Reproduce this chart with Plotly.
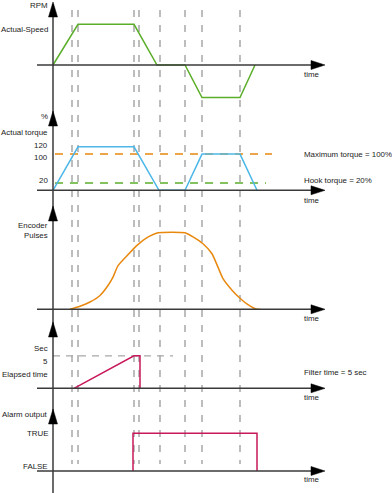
import plotly.graph_objects as go

W, H = 392, 493

# ---------------- data (time in arbitrary units) ----------------
event_times = [19, 25, 81, 86, 107, 132, 149, 187]

speed_t = [0, 25, 81, 104, 132, 149, 187, 202]
speed_v = [0, 100, 100, 0, 0, -80, -80, 0]

torque_t = [0, 25, 81, 106, 132, 149, 187, 204]
torque_v = [0, 120, 120, 0, 0, 100, 100, 0]
torque_ticks = [120, 100, 20]
max_torque = 100
hook_torque = 20
limit_t = [2, 219]
hook_t = [2, 213]

encoder_t = [17, 27, 37, 47, 55, 60, 65, 74, 84, 94, 105, 132, 140, 150, 159, 165, 170, 179, 187, 195, 204, 207]
encoder_v = [0, 4, 9.5, 18, 31, 42, 57, 70, 83.5, 93.5, 100, 100, 94.5, 85.5, 72.5, 55, 40, 25, 14.5, 6, 0, 0]

elapsed_t = [21, 81, 87, 87]
elapsed_v = [0, 5, 5, 0]
filter_time = 5
filter_t = [0, 120]

alarm_t = [80, 80, 204, 204]
alarm_v = [0, 1, 1, 0]

# ---------------- style ----------------
GREEN = "#5BAE2A"
BLUE = "#4DB8E8"
ORANGE = "#E8880E"
RED = "#C8185A"
GREY = "#A8A8A8"
AXIS = "#3A3A3A"
TEXT = "#222222"
FONT = "Liberation Sans, Arial, sans-serif"
FS = 7.9

# panel geometry (pixels): top, bottom, zero line, px per unit
panels = [
    (0, 106, 65, 0.407),
    (106, 203, 190.3, 0.362),
    (203, 320, 309.3, 0.766),
    (320, 404, 388.3, 6.5),
    (404, 493, 471, 37.7),
]
arrow_tips = [2, 111, 206, 322, 409]

def py(p):
    return 1 - p / H

fig = go.Figure()

layout = dict(
    width=W, height=H, margin=dict(l=0, r=0, t=0, b=0),
    paper_bgcolor="white", plot_bgcolor="white", showlegend=False,
    xaxis=dict(range=[-53, W - 53], domain=[0, 1], visible=False, fixedrange=True),
)
for i, (top, bot, zero, ppu) in enumerate(panels):
    name = "yaxis" if i == 0 else f"yaxis{i+1}"
    layout[name] = dict(
        domain=[py(bot), py(top)],
        range=[(zero - bot) / ppu, (zero - top) / ppu],
        visible=False, anchor="x", fixedrange=True,
    )
fig.update_layout(**layout)

def yr(i):
    return "y" if i == 0 else f"y{i+1}"

shapes = []
# dashed event lines
for t in event_times:
    shapes.append(dict(type="line", xref="x", yref="paper", x0=t, x1=t, y0=py(10), y1=py(464),
                       line=dict(color=GREY, width=1.5, dash="7px,8px"), layer="below"))
# vertical axis
shapes.append(dict(type="line", xref="x", yref="paper", x0=0, x1=0, y0=py(4), y1=0,
                   line=dict(color=AXIS, width=1.5)))
for tip in arrow_tips:
    shapes.append(dict(type="path", xref="x", yref="paper",
                       path=f"M -4.5,{py(tip+15)} L 0,{py(tip)} L 4.5,{py(tip+15)} Z",
                       fillcolor="black", line=dict(color="black", width=0.5)))
# horizontal axes
for i, (top, bot, zero, ppu) in enumerate(panels):
    shapes.append(dict(type="line", xref="x", yref=yr(i), x0=-16, x1=260, y0=0, y1=0,
                       line=dict(color=AXIS, width=1.5)))
    h = 4.5 / ppu
    shapes.append(dict(type="path", xref="x", yref=yr(i),
                       path=f"M 258,{-h} L 272,0 L 258,{h} Z",
                       fillcolor="black", line=dict(color="black", width=0.5)))
fig.update_layout(shapes=shapes)

# traces
fig.add_trace(go.Scatter(x=speed_t, y=speed_v, mode="lines", yaxis="y",
                         line=dict(color=GREEN, width=1.5)))
fig.add_trace(go.Scatter(x=limit_t, y=[max_torque] * 2, mode="lines", yaxis="y2",
                         line=dict(color=ORANGE, width=1.5, dash="8px,7px")))
fig.add_trace(go.Scatter(x=hook_t, y=[hook_torque] * 2, mode="lines", yaxis="y2",
                         line=dict(color=GREEN, width=1.5, dash="8px,7px")))
fig.add_trace(go.Scatter(x=torque_t, y=torque_v, mode="lines", yaxis="y2",
                         line=dict(color=BLUE, width=1.5)))
fig.add_trace(go.Scatter(x=encoder_t, y=encoder_v, mode="lines", yaxis="y3",
                         line=dict(color=ORANGE, width=1.5, shape="spline", smoothing=0.5)))
fig.add_trace(go.Scatter(x=filter_t, y=[filter_time] * 2, mode="lines", yaxis="y4",
                         line=dict(color=GREY, width=1.2, dash="7px,6px")))
fig.add_trace(go.Scatter(x=elapsed_t, y=elapsed_v, mode="lines", yaxis="y4",
                         line=dict(color=RED, width=1.5)))
fig.add_trace(go.Scatter(x=alarm_t, y=alarm_v, mode="lines", yaxis="y5",
                         line=dict(color=RED, width=1.5)))

ann = []
def left_px(text, p):
    ann.append(dict(text=text, xref="paper", yref="paper", x=50 / W, y=py(p),
                    xanchor="right", yanchor="middle", showarrow=False))
def left_val(text, axis, v, shift=0):
    ann.append(dict(text=text, xref="paper", yref=axis, x=50 / W, y=v, yshift=shift,
                    xanchor="right", yanchor="middle", showarrow=False))
def right_px(text, p):
    ann.append(dict(text=text, xref="paper", yref="paper", x=302 / W, y=py(p),
                    xanchor="left", yanchor="middle", showarrow=False))

left_px("RPM", 6)
left_px("Actual-Speed", 29)
left_px("%", 116)
left_px("Actual torque", 132)
for v, s in zip(torque_ticks, [1, -3, 3]):
    left_val(str(v), "y2", v, s)
left_px("Encoder", 225.5)
left_px("Pulses", 235)
left_px("Sec", 348)
left_val(str(filter_time), "y4", filter_time, -6)
left_px("Elapsed time", 374)
left_px("Alarm output", 414)
left_val("TRUE", "y5", 1)
left_val("FALSE", "y5", 0, 5)

ann.append(dict(text=f"Maximum torque = {max_torque}%", xref="paper", yref="y2", x=302 / W,
                y=max_torque, xanchor="left", yanchor="middle", showarrow=False))
ann.append(dict(text=f"Hook torque = {hook_torque}%", xref="paper", yref="y2", x=302 / W,
                y=hook_torque, yshift=3, xanchor="left", yanchor="middle", showarrow=False))
right_px(f"Filter time = {filter_time} sec", 372)
for p in [75, 201, 318, 397, 479]:
    right_px("time", p)

for a in ann:
    a["font"] = dict(family=FONT, size=FS, color=TEXT)
fig.update_layout(annotations=ann)

fig.write_html("out.html", config={"displayModeBar": False},
               post_script="document.body.style.margin='0px';")
